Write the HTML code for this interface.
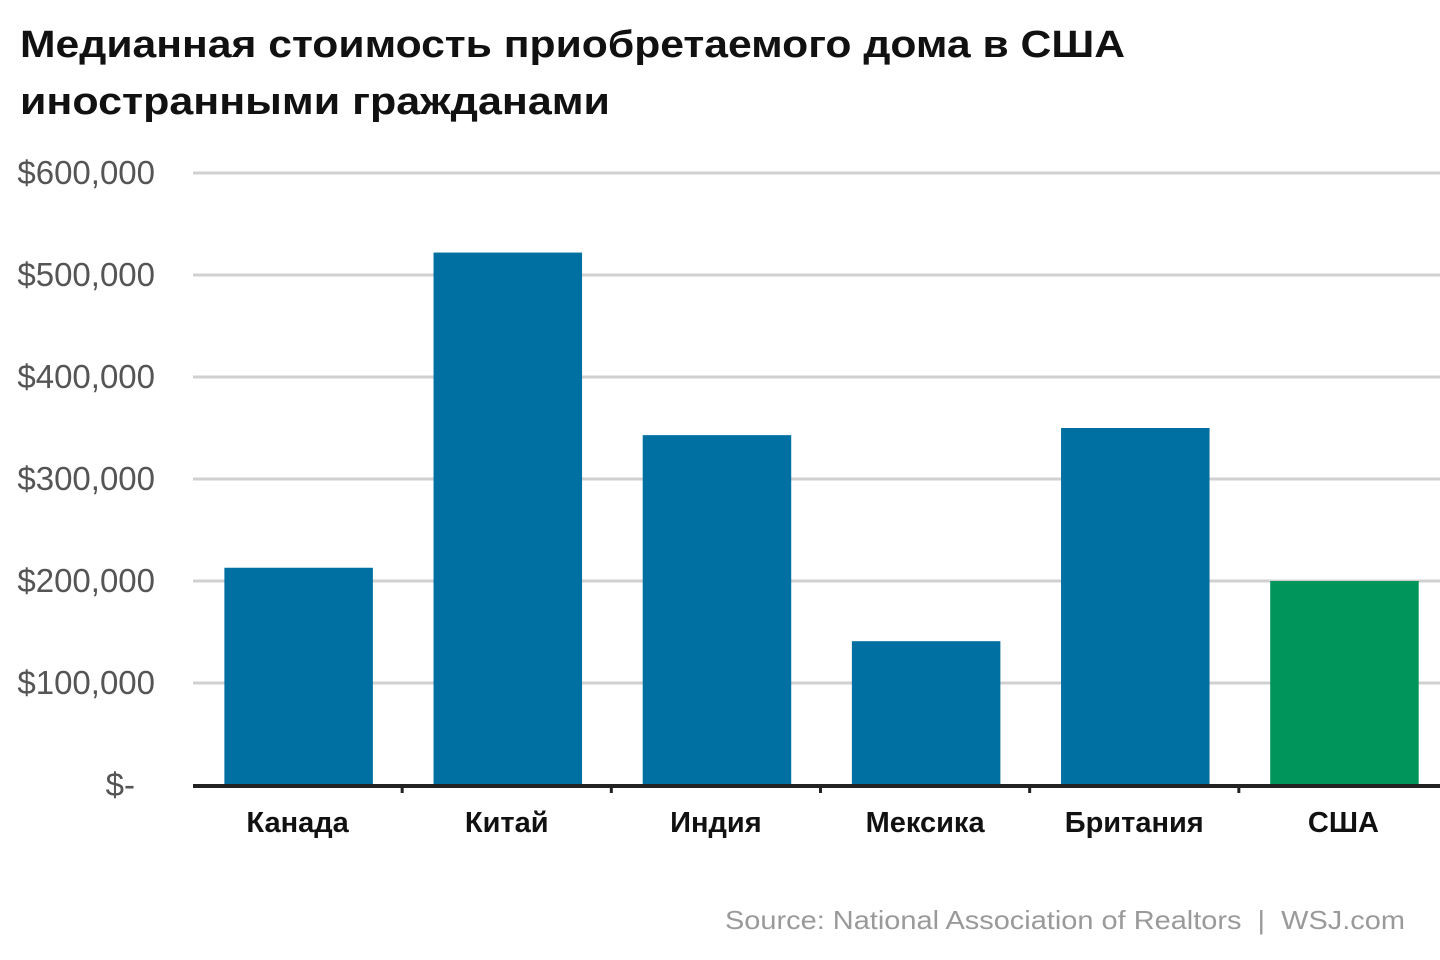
<!DOCTYPE html>
<html><head><meta charset="utf-8">
<style>
html,body{margin:0;padding:0;background:#fff;width:1440px;height:960px;overflow:hidden}
svg text{font-family:"Liberation Sans","DejaVu Sans",sans-serif}
</style></head>
<body>
<svg id="chart" width="1440" height="960" xmlns="http://www.w3.org/2000/svg">
<text x="20" y="57" font-size="38" font-weight="bold" fill="#111" textLength="1105" lengthAdjust="spacingAndGlyphs">Медианная стоимость приобретаемого дома в США</text>
<text x="20" y="114" font-size="38" font-weight="bold" fill="#111" textLength="590" lengthAdjust="spacingAndGlyphs">иностранными гражданами</text>
<g id="grid"></g><g id="bars"></g><g id="axis"></g>
<text x="725" y="929" font-size="26" fill="#9a9a9a" textLength="680" lengthAdjust="spacingAndGlyphs" xml:space="preserve">Source: National Association of Realtors  |  WSJ.com</text>
</svg>
<script>
const categories=["Канада","Китай","Индия","Мексика","Британия","США"];
const values=[213000,522000,343000,141000,350000,200000];
const highlight=[false,false,false,false,false,true];
const tickValues=[0,100000,200000,300000,400000,500000,600000];
const tickLabels=["$-","$100,000","$200,000","$300,000","$400,000","$500,000","$600,000"];
const NS="http://www.w3.org/2000/svg";
const x0=193,x1=1448,yBase=785,yTop=173,maxV=600000;
const y=v=>yBase-(v/maxV)*(yBase-yTop);
const bw=(x1-x0)/categories.length;
const bx=i=>x0+i*bw;
function mk(t,a,p){const e=document.createElementNS(NS,t);for(const k in a)e.setAttribute(k,a[k]);p.appendChild(e);return e;}
const grid=document.getElementById('grid'),bars=document.getElementById('bars'),axis=document.getElementById('axis');
tickValues.forEach((v,i)=>{
  if(v>0){const l=mk('line',{x1:x0,x2:1440,y1:y(v),y2:y(v),stroke:'#d0d0d0','stroke-width':3},grid);
  
  }
  const t=mk('text',{x:v===0?135:155,y:y(v)+11,'font-size':33,fill:'#555','text-anchor':'end'},grid);
  t.textContent=tickLabels[i];
  
  
});
categories.forEach((c,i)=>{
  const r=mk('rect',{x:bx(i)+bw*0.15,y:y(values[i]),width:bw*0.71,height:yBase-y(values[i]),fill:highlight[i]?'#00955a':'#0070a3'},bars);
  
  
  const t=mk('text',{x:bx(i)+bw*0.5,y:832,'font-size':29,'font-weight':'bold',fill:'#111','text-anchor':'middle'},axis);
  t.textContent=c;
  
  
  if(i>0){const k=mk('line',{x1:bx(i),x2:bx(i),y1:yBase,y2:yBase+8,stroke:'#222','stroke-width':3},axis);
  
  }
});
const al=mk('line',{x1:x0,x2:1440,y1:yBase+1,y2:yBase+1,stroke:'#222','stroke-width':4},axis);


</script>
</body></html>
